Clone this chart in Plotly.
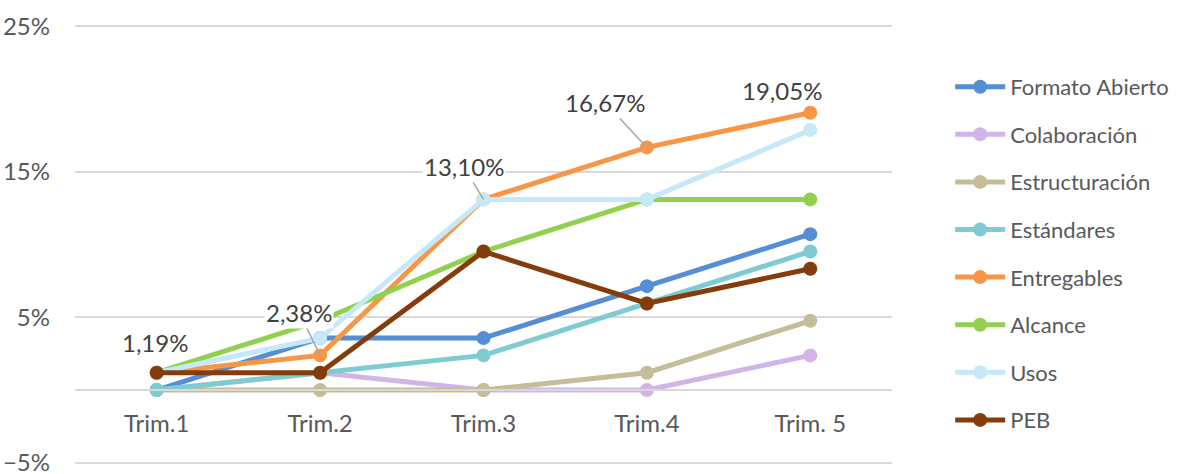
import plotly.graph_objects as go

trimestres = ["Trim.1", "Trim.2", "Trim.3", "Trim.4", "Trim. 5"]

formato_abierto = [0.0, 3.57, 3.57, 7.14, 10.71]
colaboracion = [0.0, 1.19, 0.0, 0.0, 2.38]
estructuracion = [0.0, 0.0, 0.0, 1.19, 4.76]
estandares = [0.0, 1.19, 2.38, 5.95, 9.52]
entregables = [1.19, 2.38, 13.10, 16.67, 19.05]
alcance = [1.19, 4.76, 9.52, 13.10, 13.10]
usos = [1.19, 3.57, 13.10, 13.10, 17.86]
peb = [1.19, 1.19, 9.52, 5.95, 8.33]

series = [
    ("Formato Abierto", formato_abierto, "#558ED5"),
    ("Colaboración", colaboracion, "#D2B5E8"),
    ("Estructuración", estructuracion, "#C4BD97"),
    ("Estándares", estandares, "#7ECBD1"),
    ("Entregables", entregables, "#F79646"),
    ("Alcance", alcance, "#92D050"),
    ("Usos", usos, "#C6E9FA"),
    ("PEB", peb, "#843C0C"),
]

FONT = "Lato, 'Open Sans', sans-serif"
FS = 24
Y_MIN, Y_MAX = -5.15, 25.15

fig = go.Figure()
for name, vals, color in series:
    fig.add_trace(go.Scatter(
        x=trimestres,
        y=vals,
        name=name,
        legendgroup=name,
        mode="lines+markers",
        line=dict(color=color, width=5),
        marker=dict(color=color, size=14),
    ))

# data labels for Entregables
label_pos = {0: (-2, 30, False), 1: (-21, -43, True), 2: (-20, -33, True),
             3: (-42, -45, True), 4: (-28, 22, False)}
for i, (dx, dy, arrow) in label_pos.items():
    txt = f"{entregables[i]:.2f}%".replace(".", ",")
    if arrow:
        fig.add_annotation(x=trimestres[i], y=entregables[i], text=txt,
                           showarrow=True, arrowhead=0, arrowwidth=1.5,
                           arrowcolor="#A6A6A6", ax=dx, ay=dy,
                           bgcolor="white",
                           font=dict(family=FONT, size=FS, color="#404040"))
    else:
        fig.add_annotation(x=trimestres[i], y=entregables[i], text=txt,
                           showarrow=False, xshift=dx, yshift=dy,
                           font=dict(family=FONT, size=FS, color="#404040"))

fig.update_layout(
    width=1188,
    height=474,
    margin=dict(l=75, r=296, t=24, b=9),
    paper_bgcolor="white",
    plot_bgcolor="white",
    font=dict(family=FONT, size=FS, color="#595959"),
    legend=dict(
        x=1.0712, y=0.905, xanchor="left", yanchor="top",
        font=dict(family=FONT, size=22, color="#595959"),
        tracegroupgap=16,
        itemwidth=50,
    ),
    xaxis=dict(
        type="category",
        range=[-0.5, 4.5],
        anchor="free",
        position=(0 - Y_MIN) / (Y_MAX - Y_MIN),
        showgrid=False,
        showline=True,
        linecolor="#D9D9D9",
        linewidth=1.5,
        ticks="",
        ticklabelstandoff=12,
        automargin=False,
        tickfont=dict(family=FONT, size=FS, color="#595959"),
    ),
    yaxis=dict(
        range=[Y_MIN, Y_MAX],
        tick0=-5,
        dtick=10,
        ticksuffix="%",
        showgrid=True,
        gridcolor="#D9D9D9",
        gridwidth=1.5,
        zeroline=False,
        ticks="",
        ticklabelstandoff=24,
        ticklabeloverflow="allow",
        automargin=False,
        tickfont=dict(family=FONT, size=FS, color="#595959"),
    ),
)

fig.write_html("out.html", config={"displayModeBar": False},
               post_script="document.body.style.margin='0';")
